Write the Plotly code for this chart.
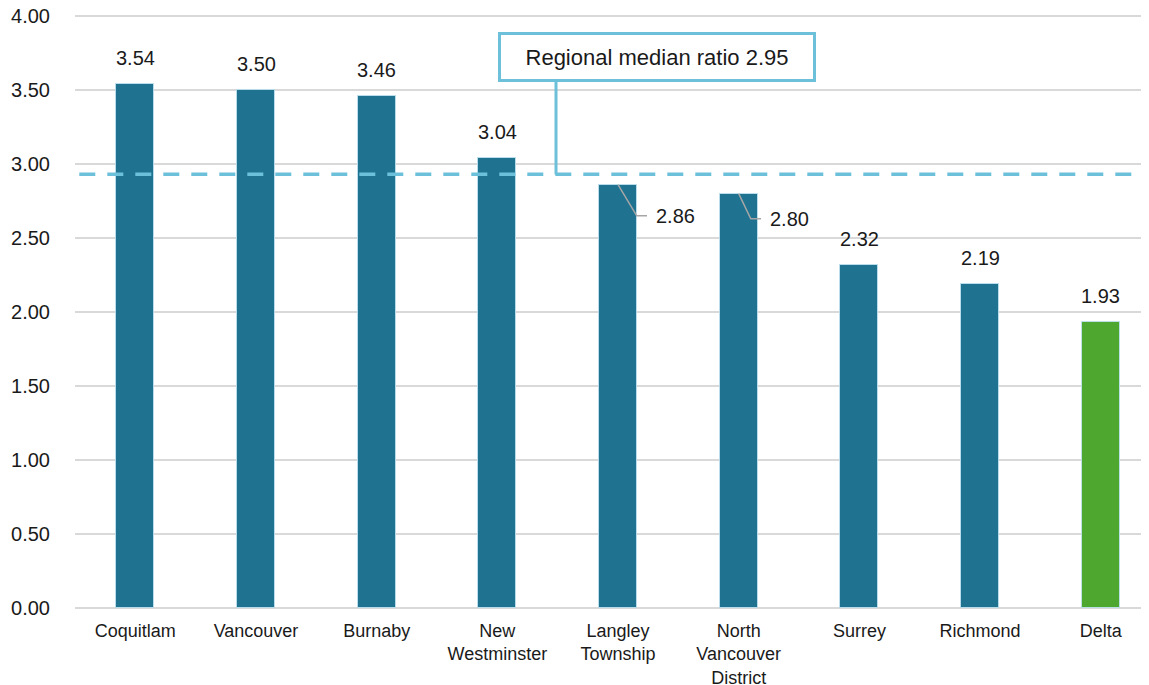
import plotly.graph_objects as go

# ---- data ----
categories = ["Coquitlam", "Vancouver", "Burnaby", "New<br>Westminster", "Langley<br>Township",
              "North<br>Vancouver<br>District", "Surrey", "Richmond", "Delta"]
ratios = [3.54, 3.50, 3.46, 3.04, 2.86, 2.80, 2.32, 2.19, 1.93]
highlight = [False, False, False, False, False, False, False, False, True]
median_label_value = 2.95
median_line_level = 2.93
y_tick_values = [0, 0.5, 1.0, 1.5, 2.0, 2.5, 3.0, 3.5, 4.0]
# labels drawn with a leader line (index -> (dx, dy) offset in axis units)
leader_labels = {4: (0.155, -0.21), 5: (0.10, -0.17)}

BAR = "#1F7390"
GREEN = "#4EA72E"
MEDIAN = "#6CC0D9"
TXT = "#1a1a1a"
FONT = "Liberation Sans, Arial, sans-serif"

x_idx = list(range(len(categories)))
colors = [GREEN if h else BAR for h in highlight]

fig = go.Figure()
fig.add_trace(go.Bar(
    x=x_idx, y=ratios, width=0.315,
    marker=dict(color=colors, line=dict(color="rgba(190,225,238,0.9)", width=1)),
    hoverinfo="x+y",
))

annotations = []
shapes = []
for i, v in zip(x_idx, ratios):
    if i in leader_labels:
        dx, dy = leader_labels[i]
        shapes.append(dict(
            type="path", xref="x", yref="y",
            path=f"M {i},{v} L {i+dx},{v+dy} L {i+dx+0.085},{v+dy}",
            line=dict(color="#A6A6A6", width=1.5), layer="above"))
        annotations.append(dict(
            x=i + dx + 0.14, y=v + dy, xref="x", yref="y", text=f"{v:.2f}",
            showarrow=False, xanchor="left", yanchor="middle",
            font=dict(family=FONT, size=20, color=TXT)))
    else:
        annotations.append(dict(
            x=i, y=v, xref="x", yref="y", text=f"{v:.2f}", showarrow=False,
            xanchor="center", yanchor="middle", yshift=26,
            font=dict(family=FONT, size=20, color=TXT)))

# median dashed line
shapes.append(dict(
    type="line", xref="paper", yref="y", x0=0.004, x1=1, y0=median_line_level, y1=median_line_level,
    line=dict(color=MEDIAN, width=3.5, dash="16px,12px"), layer="above"))
# connector from callout to line
box_x = 4.32
box_y = 3.725
conn_x = 3.486
shapes.append(dict(
    type="line", xref="x", yref="y", x0=conn_x, x1=conn_x, y0=3.57, y1=median_line_level,
    line=dict(color=MEDIAN, width=3), layer="above"))
annotations.append(dict(
    x=box_x, y=box_y, xref="x", yref="y",
    text=f"Regional median ratio {median_label_value:.2f}", showarrow=False,
    xanchor="center", yanchor="middle", width=304, height=36, borderpad=4,
    bordercolor=MEDIAN, borderwidth=3, bgcolor="white",
    font=dict(family=FONT, size=22, color=TXT)))

# the page body adds an 8px offset; figure is sized to fill the rest of the window
fig.update_layout(
    width=1141, height=677,
    margin=dict(l=67, r=0, t=6, b=77),
    paper_bgcolor="white", plot_bgcolor="white",
    showlegend=False, bargap=0.0,
    annotations=annotations, shapes=shapes,
    font=dict(family=FONT, color=TXT),
)
fig.update_xaxes(
    tickmode="array", tickvals=x_idx, ticktext=categories,
    range=[-0.5, 8.4], showgrid=False, zeroline=False,
    showline=False, ticks="", ticklabelstandoff=10, automargin=False,
    tickfont=dict(family=FONT, size=18, color=TXT),
)
fig.update_yaxes(
    range=[0, 4.0135], tickvals=y_tick_values, tickformat=".2f",
    showgrid=True, gridcolor="#D9D9D9", gridwidth=1.5,
    zeroline=True, zerolinecolor="#D9D9D9", zerolinewidth=2,
    showline=False, ticks="", ticklabelstandoff=24, automargin=False,
    ticklabeloverflow="allow",
    tickfont=dict(family=FONT, size=20, color=TXT),
)

fig.write_html("out.html")
